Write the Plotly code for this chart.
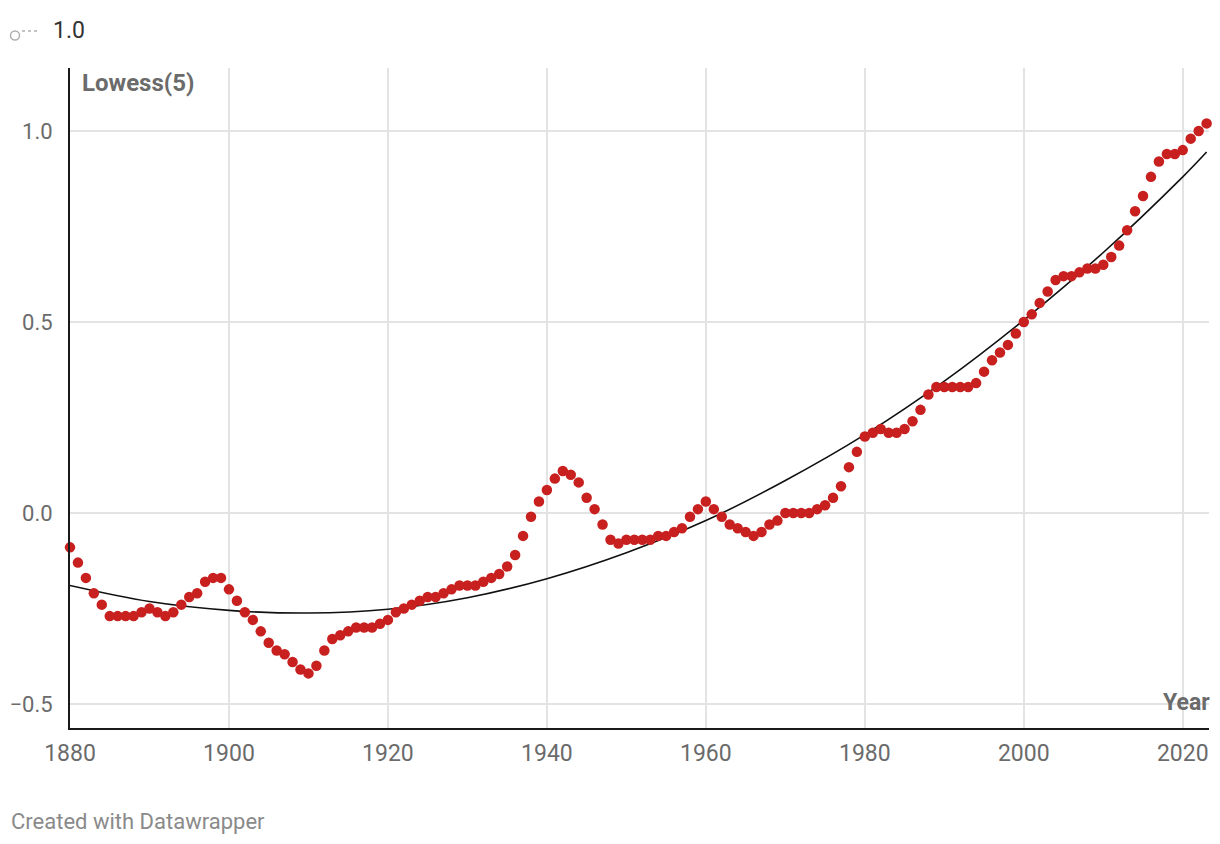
import plotly.graph_objects as go

years = list(range(1880, 2024))
values = [
    -0.09, -0.13, -0.17, -0.21, -0.24, -0.27, -0.27, -0.27, -0.27, -0.26,
    -0.25, -0.26, -0.27, -0.26, -0.24, -0.22, -0.21, -0.18, -0.17, -0.17,
    -0.20, -0.23, -0.26, -0.28, -0.31, -0.34, -0.36, -0.37, -0.39, -0.41,
    -0.42, -0.40, -0.36, -0.33, -0.32, -0.31, -0.30, -0.30, -0.30, -0.29,
    -0.28, -0.26, -0.25, -0.24, -0.23, -0.22, -0.22, -0.21, -0.20, -0.19,
    -0.19, -0.19, -0.18, -0.17, -0.16, -0.14, -0.11, -0.06, -0.01, 0.03,
    0.06, 0.09, 0.11, 0.10, 0.08, 0.04, 0.01, -0.03, -0.07, -0.08,
    -0.07, -0.07, -0.07, -0.07, -0.06, -0.06, -0.05, -0.04, -0.01, 0.01,
    0.03, 0.01, -0.01, -0.03, -0.04, -0.05, -0.06, -0.05, -0.03, -0.02,
    0.00, 0.00, 0.00, 0.00, 0.01, 0.02, 0.04, 0.07, 0.12, 0.16,
    0.20, 0.21, 0.22, 0.21, 0.21, 0.22, 0.24, 0.27, 0.31, 0.33,
    0.33, 0.33, 0.33, 0.33, 0.34, 0.37, 0.40, 0.42, 0.44, 0.47,
    0.50, 0.52, 0.55, 0.58, 0.61, 0.62, 0.62, 0.63, 0.64, 0.64,
    0.65, 0.67, 0.70, 0.74, 0.79, 0.83, 0.88, 0.92, 0.94, 0.94,
    0.95, 0.98, 1.00, 1.02,
]

trend_years = [1880, 1890, 1900, 1910, 1920, 1930, 1940, 1950, 1960, 1970,
               1980, 1990, 2000, 2010, 2020, 2023]
trend_values = [-0.19, -0.232, -0.255, -0.262, -0.252, -0.222, -0.172, -0.104,
                -0.02, 0.085, 0.205, 0.345, 0.505, 0.682, 0.88, 0.945]

x_ticks = [1880, 1900, 1920, 1940, 1960, 1980, 2000, 2020]
y_ticks = [-0.5, 0.0, 0.5, 1.0]

FONT = "Roboto"
GRAY = "#6b6b6b"
PW, PH = 1139, 660  # plot area size in px

fig = go.Figure()
fig.add_trace(go.Scatter(
    x=trend_years, y=trend_values, mode="lines",
    line=dict(color="#111111", width=1.6, shape="spline", smoothing=1.0),
    hoverinfo="skip", showlegend=False,
))
fig.add_trace(go.Scatter(
    x=years, y=values, mode="markers",
    marker=dict(color="#c8201f", size=10.5, line=dict(width=0)),
    cliponaxis=False, showlegend=False,
))

fig.update_layout(
    width=1212, height=836,
    margin=dict(l=62, r=11, t=60, b=116, autoexpand=False),
    paper_bgcolor="white", plot_bgcolor="white",
    font=dict(family=FONT, color=GRAY, size=23),
    xaxis=dict(
        range=[1880, 2023.3], tickvals=x_ticks, ticktext=[str(t) for t in x_ticks],
        showgrid=True, gridcolor="#e3e3e3", gridwidth=1.5,
        showline=True, linecolor="#1a1a1a", linewidth=2,
        zeroline=False, ticks="", tickfont=dict(size=23, color=GRAY),
        ticklabelstandoff=3, automargin=False,
    ),
    yaxis=dict(
        range=[-0.563, 1.165], tickvals=y_ticks,
        ticktext=["\u22120.5", "0.0", "0.5", "1.0"],
        showgrid=True, gridcolor="#e3e3e3", gridwidth=1.5,
        showline=True, linecolor="#1a1a1a", linewidth=2,
        zeroline=False, ticks="", tickfont=dict(size=22, color=GRAY),
        ticklabelstandoff=11, automargin=False,
    ),
    annotations=[
        dict(text="<b>Lowess(5)</b>", xref="paper", yref="paper",
             x=0, y=1, xshift=10, yshift=1, xanchor="left", yanchor="top",
             showarrow=False, font=dict(size=24, color=GRAY, family=FONT)),
        dict(text="<b>Year</b>", xref="paper", yref="paper",
             x=1, y=0, xshift=3, yshift=10, xanchor="right", yanchor="bottom",
             showarrow=False, font=dict(size=23, color=GRAY, family=FONT)),
        dict(text="1.0", xref="paper", yref="paper",
             x=-19 / PW, y=1 + 37 / PH, xanchor="left", yanchor="middle",
             showarrow=False, font=dict(size=23, color="#333333", family=FONT)),
        dict(text="Created with Datawrapper", xref="paper", yref="paper",
             x=-61 / PW, y=-93 / PH, xanchor="left", yanchor="middle",
             showarrow=False, font=dict(size=22, color="#8a8a8a", family=FONT)),
    ],
    shapes=[
        dict(type="circle", xref="paper", yref="paper",
             x0=-59.5 / PW, x1=-50.5 / PW, y0=1 + 28 / PH, y1=1 + 37 / PH,
             line=dict(color="#b0b0b0", width=1.5), fillcolor="rgba(0,0,0,0)"),
        dict(type="line", xref="paper", yref="paper",
             x0=-48 / PW, x1=-31 / PW, y0=1 + 37 / PH, y1=1 + 37 / PH,
             line=dict(color="#b0b0b0", width=1.5, dash="dot")),
    ],
)

fig.write_html("out.html")
